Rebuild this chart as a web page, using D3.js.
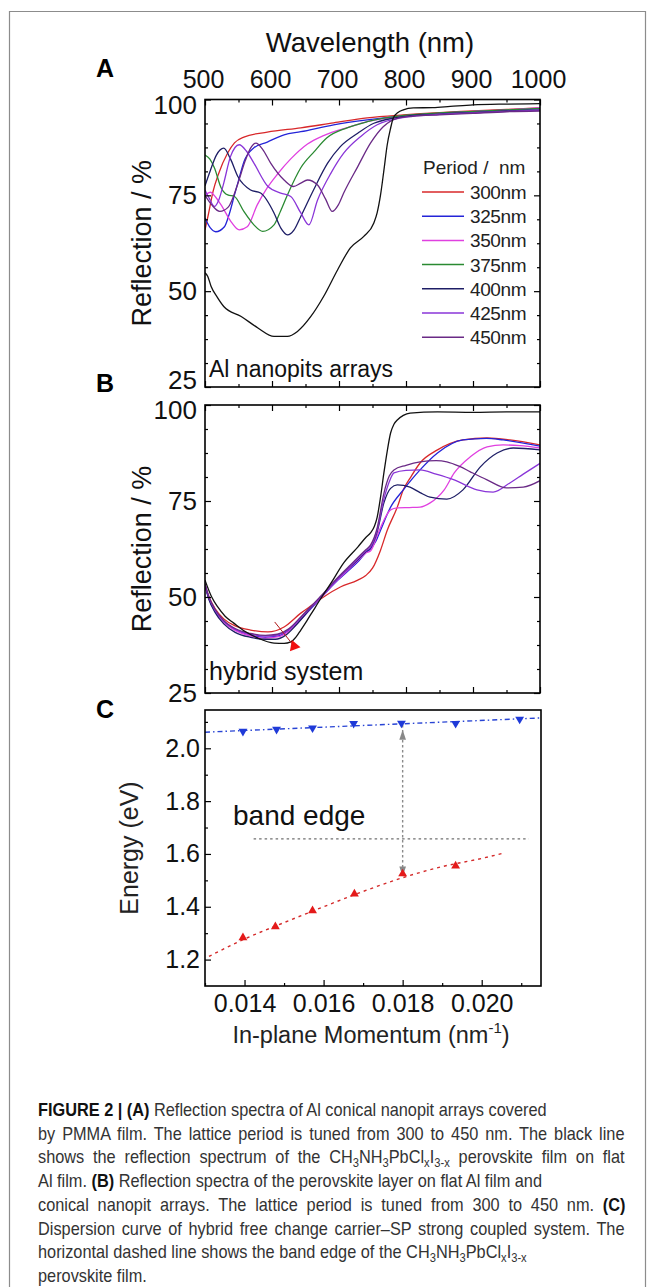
<!DOCTYPE html>
<html>
<head>
<meta charset="utf-8">
<script src="https://cdn.jsdelivr.net/npm/d3@7"></script>
<style>
  body { margin: 0; background: #fff; }
  svg text { font-family: "Liberation Sans", Arial, Helvetica, sans-serif; }
</style>
</head>
<body>
<svg id="fig" width="654" height="1287"></svg>
<script>
// ---------- data ----------
var periods = ["300nm", "325nm", "350nm", "375nm", "400nm", "425nm", "450nm"];
var wlTicks = [500, 600, 700, 800, 900, 1000];
var rTicks = [25, 50, 75, 100];
var kTicks = [0.014, 0.016, 0.018, 0.020];
var eTicks = [1.2, 1.4, 1.6, 1.8, 2.0];

// panel A : Al nanopit arrays (wavelength nm, reflection %)
var a300 = [[500,66],[505,70],[512,76],[520,80.5],[534,86.1],[544,88.7],[558,90.2],[593,91.5],[643,92.6],[692,93.9],[742,95.2],[796,96],[850,96.6],[900,97],[950,97.4],[1000,97.8]];
var a325 = [[500,69.1],[508,66.5],[516,65.5],[529,66.8],[536,70],[544,75.1],[551,79.5],[558,83.7],[573,87.4],[593,88.9],[618,90.8],[643,91.6],[692,93.4],[742,94.7],[800,95.8],[850,96.4],[900,96.8],[950,97.2],[1000,97.6]];
var a350 = [[500,75],[508,75.8],[516,74.5],[524,72.5],[539,68.1],[551,66],[563,66.8],[578,72.5],[593,77],[608,80.5],[628,84.5],[653,88.4],[677,90.6],[717,92.9],[742,94.2],[800,95.8],[850,96.4],[900,96.9],[950,97.3],[1000,97.9]];
var a375 = [[500,85.5],[507,84.5],[514,82.2],[524,77],[534,75.1],[544,74.7],[558,70.8],[573,67.3],[586,65.6],[603,67.3],[613,71],[623,75.1],[643,82.2],[663,86.4],[682,90],[712,92.6],[742,94.2],[800,95.9],[850,96.5],[900,96.9],[950,97.3],[1000,97.7]];
var a400 = [[500,77.5],[508,81.5],[517,85.5],[528,87.3],[538,84.5],[549,79.9],[568,76.4],[583,75.6],[603,70.4],[613,66.5],[623,64.7],[633,66],[643,69.5],[662,76.4],[683,83.4],[702,87.7],[728,91.2],[752,93.8],[800,95.6],[850,96.2],[900,96.6],[950,97],[1000,97.3]];
var a425 = [[500,76.4],[507,74],[514,72.1],[521,74],[528,78.2],[538,85.1],[551,88.2],[562,86.5],[573,83.4],[594,77.3],[613,75.6],[628,74.7],[643,70.4],[655,67.3],[668,73.8],[688,80.8],[707,86],[732,90.3],[757,93.4],[800,95.4],[850,96.1],[900,96.5],[950,96.9],[1000,97.2]];
var a450 = [[500,75],[510,72.5],[522,70.8],[535,72],[548,77.5],[560,84],[568,87.3],[576,88.6],[586,87],[598,83.4],[618,79],[632,77.3],[643,78.2],[653,79],[668,77.7],[680,74],[690,70.8],[699,72.5],[707,75.6],[728,82.5],[747,88.6],[766,92.9],[787,95.1],[810,95.6],[850,96],[900,96.4],[950,96.8],[1000,97]];
var aFlat = [[500,54.8],[504,53.9],[509,51.3],[518,48.5],[528,46],[554,43.4],[579,40.4],[603,38.2],[623,38.2],[638,39.5],[658,43.4],[677,48.6],[698,55.6],[717,61.3],[737,64.3],[752,67.8],[757,70.5],[762,75.1],[767,81.5],[772,88.2],[777,92.5],[781,95.2],[788,96.6],[796,97.3],[811,97.8],[840,97.9],[866,98.2],[900,98.6],[950,98.8],[1000,98.9]];

// panel B : hybrid system
var b300 = [[500,53],[506,50],[515,47],[528,44.3],[545,42.5],[568,41.4],[594,40.9],[618,42.2],[643,45.8],[660,47.9],[677,50],[702,52.6],[728,54.4],[740,55.6],[750,57.5],[762,62.2],[772,67.4],[787,73.4],[796,77.9],[808,81.5],[821,84.9],[847,88.3],[885,90.9],[921,91.4],[955,90.9],[1000,89.6]];
var b325 = [[500,53],[506,49.5],[515,46.3],[528,43.6],[545,41.5],[568,40],[590,39.5],[608,39.8],[625,41.3],[643,44.2],[660,47.3],[677,50.5],[695,53.8],[715,57],[730,59.5],[740,61.5],[747,62.5],[755,64.5],[762,67.4],[777,73.4],[796,77.9],[808,80.5],[821,83.1],[847,87.5],[885,90.9],[920,91.3],[945,90.9],[1000,89.3]];
var b350 = [[500,53.2],[506,49.7],[515,46.5],[528,43.5],[545,41.3],[568,39.9],[590,39.3],[608,39.6],[625,41.1],[643,44.3],[660,47.5],[677,50.6],[695,54],[715,57.3],[730,59.8],[740,61.5],[747,62],[757,66],[767,70],[777,72.7],[787,73.2],[805,73.3],[821,73.4],[836,74.5],[857,77.9],[872,82.3],[896,86.5],[921,89.1],[945,89.6],[970,89.4],[1000,88.8]];
var b400 = [[500,53],[506,49.3],[515,46],[528,43],[545,40.8],[568,39.5],[590,39],[605,39],[620,40],[635,42.5],[650,45.5],[665,48.6],[677,50.8],[695,54.2],[715,57.6],[730,60],[740,61.8],[747,62.8],[757,67],[767,74.5],[777,78.3],[787,79.2],[806,78.6],[821,77.2],[836,76],[861,75.5],[885,77.9],[911,83.9],[936,87.5],[960,88.8],[1000,88.3]];
var b425 = [[500,53.3],[506,49.8],[515,46.6],[528,43.7],[545,41.6],[568,40.3],[590,39.8],[608,40.1],[625,41.5],[643,44.6],[660,47.7],[677,50.8],[695,54.2],[715,57.7],[730,60.3],[740,62],[747,63],[757,67.5],[767,75.5],[775,80],[782,82.3],[800,83],[821,83.1],[845,82],[872,80.5],[906,77.9],[930,77.3],[955,79.7],[975,82],[1000,84.8]];
var b450 = [[500,53.5],[506,50],[515,46.8],[528,43.9],[545,41.8],[568,40.5],[590,40],[608,40.3],[625,41.7],[643,44.8],[660,47.9],[677,51],[695,54.5],[715,58],[730,60.6],[740,62.3],[747,63.5],[757,68],[767,77],[775,81.5],[782,83.1],[800,84.3],[821,85.2],[845,85.5],[861,85.2],[880,84],[896,82.6],[921,80.5],[950,78.4],[975,78.6],[1000,80.3]];
var bFlat = [[500,54.4],[510,50],[519,47.4],[530,45],[543,43.2],[560,41],[579,39.3],[603,38],[618,37.9],[628,38.3],[636,39.6],[643,41.4],[652,43.8],[662,46.6],[675,50.2],[688,53.6],[707,58.9],[728,63],[740,65.5],[747,66.7],[753,68.5],[757,70.8],[762,76],[767,82.3],[772,88],[777,92.7],[782,95],[787,96.1],[796,97.3],[806,97.9],[847,98.2],[900,98.1],[950,98.2],[1000,98.2]];
var bArrow = [[604,43.5],[633,37.2]];

// panel C : dispersion (in-plane momentum nm^-1, energy eV)
var kUpper = [0.01396, 0.01481, 0.01572, 0.01676, 0.01797, 0.01934, 0.02096];
var eUpper = [2.064, 2.072, 2.077, 2.094, 2.095, 2.094, 2.110];
var kLower = [0.01396, 0.01478, 0.01572, 0.01678, 0.01800, 0.01934];
var eLower = [1.283, 1.325, 1.385, 1.449, 1.525, 1.555];
var upperFit = [[0.0130, 2.061], [0.0215, 2.115]];
var lowerFit = [[0.0131,1.212],[0.0140,1.278],[0.0150,1.340],[0.0160,1.400],[0.0170,1.458],[0.0180,1.510],[0.0190,1.552],[0.0200,1.583],[0.02055,1.603]];
var bandEdge = [[0.01423, 1.657], [0.02119, 1.657]];
var gapArrow = [[0.0180, 2.088], [0.0180, 1.530]];
var gapHeads = [2.045, 1.540];

var captionLines = [
  [["FIGURE 2 | (A)", "b"], [" Reflection spectra of Al conical nanopit arrays covered", ""]],
  [["by PMMA film. The lattice period is tuned from 300 to 450 nm. The black line", ""]],
  [["shows the reflection spectrum of the CH", ""], ["3", "s"], ["NH", ""], ["3", "s"], ["PbCl", ""], ["x", "s"], ["I", ""], ["3-x", "s"], [" perovskite film on flat", ""]],
  [["Al film. ", ""], ["(B)", "b"], [" Reflection spectra of the perovskite layer on flat Al film and", ""]],
  [["conical nanopit arrays. The lattice period is tuned from 300 to 450 nm. ", ""], ["(C)", "b"]],
  [["Dispersion curve of hybrid free change carrier\u2013SP strong coupled system. The", ""]],
  [["horizontal dashed line shows the band edge of the CH", ""], ["3", "s"], ["NH", ""], ["3", "s"], ["PbCl", ""], ["x", "s"], ["I", ""], ["3-x", "s"]],
  [["perovskite film.", ""]]
];

// ---------- styles / layout ----------
var colors = ["#d8282a", "#2424d8", "#e040e0", "#2a8a32", "#1e1e66", "#8a36d8", "#6a2a86"];
var captionWidths = [509, 587, 587, 491, 588, 587, 437, 137];
var L = 205, R = 540;

var svg = d3.select("#fig");

svg.append("path")
  .attr("d", "M9.5,1287V11.5H645.5V1287")
  .attr("fill", "none").attr("stroke", "#8c8c8c").attr("stroke-width", 1.2);

var xWl = d3.scaleLinear().domain([500, 1000]).range([L, R]);
var yA = d3.scaleLinear().domain([25, 100]).range([387, 99.5]);
var yB = d3.scaleLinear().domain([25, 100]).range([693, 405]);

function styleAxis(g, size) {
  g.select(".domain").remove();
  g.attr("font-family", '"Liberation Sans", Arial, sans-serif').attr("font-size", size);
  g.selectAll("line").attr("stroke", "#000").attr("stroke-width", 1.2);
  g.selectAll("text").attr("fill", "#111");
}

function reflPanel(y, series, seriesColors, clipId, showTop) {
  var top = y.range()[1], bot = y.range()[0];
  svg.append("clipPath").attr("id", clipId)
    .append("rect").attr("x", L).attr("y", top).attr("width", R - L).attr("height", bot - top);

  var line = d3.line()
    .x(function(d) { return xWl(d[0]); })
    .y(function(d) { return y(d[1]); })
    .curve(d3.curveMonotoneX);

  var g = svg.append("g").attr("clip-path", "url(#" + clipId + ")");
  g.selectAll("path")
    .data(series)
    .enter()
    .append("path")
    .attr("d", function(d) { return line(d); })
    .attr("fill", "none")
    .attr("stroke", function(d, i) { return seriesColors[i]; })
    .attr("stroke-width", 1.3);

  var minorWl = d3.range(550, 1000, 100);
  var minorR = d3.range(25, 100.01, 6.25).filter(function(v) { return v % 25 !== 0; });

  var ax = svg.append("g").attr("transform", "translate(0," + top + ")")
    .call(d3.axisTop(xWl).tickValues(wlTicks).tickSize(-6).tickPadding(12)
      .tickFormat(showTop ? d3.format("d") : ""));
  styleAxis(ax, 25);
  ax.selectAll("text").attr("dx", "-2");
  styleAxis(svg.append("g").attr("transform", "translate(0," + top + ")")
    .call(d3.axisTop(xWl).tickValues(minorWl).tickSize(-3).tickFormat("")), 10);
  styleAxis(svg.append("g").attr("transform", "translate(0," + bot + ")")
    .call(d3.axisBottom(xWl).tickValues(wlTicks).tickSize(-6).tickFormat("")), 10);
  styleAxis(svg.append("g").attr("transform", "translate(0," + bot + ")")
    .call(d3.axisBottom(xWl).tickValues(minorWl).tickSize(-3).tickFormat("")), 10);

  var ay = svg.append("g").attr("transform", "translate(" + L + ",0)")
    .call(d3.axisLeft(y).tickValues(rTicks).tickSize(-6).tickPadding(8));
  styleAxis(ay, 26);
  // nudge end labels apart so the 25 of A and 100 of B do not collide
  ay.selectAll(".tick text").attr("dy", function(d) {
    if (d === 100) return showTop ? "0.55em" : "0.52em";
    if (d === 25) return showTop ? "0.05em" : "0.32em";
    return "0.32em";
  });
  styleAxis(svg.append("g").attr("transform", "translate(" + L + ",0)")
    .call(d3.axisLeft(y).tickValues(minorR).tickSize(-3).tickFormat("")), 10);
  styleAxis(svg.append("g").attr("transform", "translate(" + R + ",0)")
    .call(d3.axisRight(y).tickValues(rTicks).tickSize(-6).tickFormat("")), 10);
  styleAxis(svg.append("g").attr("transform", "translate(" + R + ",0)")
    .call(d3.axisRight(y).tickValues(minorR).tickSize(-3).tickFormat("")), 10);

  svg.append("rect").attr("x", L).attr("y", top).attr("width", R - L).attr("height", bot - top)
    .attr("fill", "none").attr("stroke", "#000").attr("stroke-width", 1.6);

  svg.append("text")
    .attr("transform", "translate(151," + ((top + bot) / 2) + ") rotate(-90)")
    .attr("text-anchor", "middle").attr("font-size", 27).attr("fill", "#111")
    .text("Reflection / %");
  return line;
}

// ---------- panel A ----------
svg.append("text").attr("x", 370).attr("y", 52).attr("text-anchor", "middle")
  .attr("font-size", 27.5).attr("fill", "#111").text("Wavelength (nm)");
svg.append("text").attr("x", 96).attr("y", 77).attr("font-size", 25).attr("font-weight", "bold").text("A");

reflPanel(yA, [a300, a325, a350, a375, a400, a425, a450, aFlat], colors.concat(["#111"]), "clipA", true);

svg.append("text").attr("x", 209).attr("y", 377).attr("font-size", 23).attr("fill", "#111")
  .text("Al nanopits arrays");

var legend = svg.append("g");
legend.append("text").attr("x", 423).attr("y", 174).attr("font-size", 19).attr("fill", "#222")
  .text("Period /\u00a0 nm");
var items = legend.selectAll("g.item")
  .data(periods)
  .enter()
  .append("g")
  .attr("transform", function(d, i) { return "translate(0," + (192 + i * 24.2) + ")"; });
items.append("line").attr("x1", 422).attr("x2", 464).attr("y1", 0).attr("y2", 0)
  .attr("stroke", function(d, i) { return colors[i]; }).attr("stroke-width", 1.5);
items.append("text").attr("x", 470).attr("y", 7).attr("font-size", 19).attr("fill", "#222")
  .attr("letter-spacing", -0.4)
  .text(function(d) { return d; });

// ---------- panel B ----------
svg.append("text").attr("x", 96).attr("y", 392).attr("font-size", 25).attr("font-weight", "bold").text("B");
var lineB = reflPanel(yB, [b300, b325, b350, b400, b425, b450, bFlat],
  [colors[0], colors[1], colors[2], colors[4], colors[5], colors[6], "#111"], "clipB", false);

svg.append("path").attr("d", lineB.curve(d3.curveLinear)(bArrow))
  .attr("stroke", "#b01818").attr("stroke-width", 1).attr("fill", "none");
svg.append("path")
  .attr("d", d3.symbol(d3.symbolTriangle).size(55)())
  .attr("transform", "translate(" + xWl(bArrow[1][0]) + "," + yB(bArrow[1][1]) + ") rotate(-20)")
  .attr("fill", "#f01010");

svg.append("text").attr("x", 209).attr("y", 680).attr("font-size", 25).attr("fill", "#111")
  .text("hybrid system");

// ---------- panel C ----------
svg.append("text").attr("x", 96).attr("y", 718).attr("font-size", 25).attr("font-weight", "bold").text("C");

var xK = d3.scaleLinear().domain([0.013, 0.0215]).range([L, 541]);
var yE = d3.scaleLinear().domain([1.1, 2.145]).range([986, 710]);
var lineC = d3.line().x(function(d) { return xK(d[0]); }).y(function(d) { return yE(d[1]); });

svg.append("path").attr("d", lineC.curve(d3.curveMonotoneX)(lowerFit))
  .attr("fill", "none").attr("stroke", "#d42a2a").attr("stroke-width", 1.4).attr("stroke-dasharray", "3,4");
svg.append("path").attr("d", lineC.curve(d3.curveLinear)(upperFit))
  .attr("fill", "none").attr("stroke", "#2844d4").attr("stroke-width", 1.4).attr("stroke-dasharray", "5,3,1.5,3");
svg.append("path").attr("d", lineC(bandEdge))
  .attr("fill", "none").attr("stroke", "#707070").attr("stroke-width", 1.3).attr("stroke-dasharray", "2.5,3");
svg.append("path").attr("d", lineC(gapArrow))
  .attr("fill", "none").attr("stroke", "#8a8a8a").attr("stroke-width", 1.4).attr("stroke-dasharray", "2.5,2.5");
svg.selectAll("path.head")
  .data(gapHeads)
  .enter()
  .append("path")
  .attr("d", d3.symbol(d3.symbolTriangle).size(30)())
  .attr("transform", function(d, i) {
    return "translate(" + xK(gapArrow[0][0]) + "," + yE(d) + ") rotate(" + (i === 0 ? 0 : 180) + ") scale(0.8,1.4)";
  })
  .attr("fill", "#888");

svg.selectAll("path.up")
  .data(kUpper)
  .enter()
  .append("path")
  .attr("d", d3.symbol(d3.symbolTriangle).size(34)())
  .attr("transform", function(d, i) { return "translate(" + xK(d) + "," + yE(eUpper[i]) + ") rotate(180)"; })
  .attr("fill", "#1f3ad8");
svg.selectAll("path.low")
  .data(kLower)
  .enter()
  .append("path")
  .attr("d", d3.symbol(d3.symbolTriangle).size(34)())
  .attr("transform", function(d, i) { return "translate(" + xK(d) + "," + yE(eLower[i]) + ")"; })
  .attr("fill", "#e41a1a");

var cb = svg.append("g").attr("transform", "translate(0,986)")
  .call(d3.axisBottom(xK).tickValues(kTicks).tickSize(-6).tickPadding(8).tickFormat(d3.format(".3f")));
styleAxis(cb, 25);
styleAxis(svg.append("g").attr("transform", "translate(0,986)")
  .call(d3.axisBottom(xK).tickValues([0.013, 0.015, 0.017, 0.019, 0.021]).tickSize(-3).tickFormat("")), 10);
styleAxis(svg.append("g").attr("transform", "translate(" + L + ",0)")
  .call(d3.axisLeft(yE).tickValues(eTicks).tickSize(-6).tickPadding(5).tickFormat(d3.format(".1f"))), 25);
styleAxis(svg.append("g").attr("transform", "translate(" + L + ",0)")
  .call(d3.axisLeft(yE).tickValues([1.3, 1.5, 1.7, 1.9, 2.1]).tickSize(-3).tickFormat("")), 10);
svg.append("rect").attr("x", L).attr("y", 710).attr("width", 336).attr("height", 276)
  .attr("fill", "none").attr("stroke", "#000").attr("stroke-width", 1.6);

svg.append("text").attr("x", 233).attr("y", 825).attr("font-size", 28).attr("fill", "#111").text("band edge");

svg.append("text")
  .attr("transform", "translate(138,848) rotate(-90)")
  .attr("text-anchor", "middle").attr("font-size", 25).attr("fill", "#222")
  .text("Energy (eV)");

var xt = svg.append("text").attr("x", 371).attr("y", 1043).attr("text-anchor", "middle")
  .attr("font-size", 23.5).attr("fill", "#222");
xt.append("tspan").text("In-plane Momentum (nm");
xt.append("tspan").attr("font-size", 15).attr("dy", -10).text("-1");
xt.append("tspan").attr("dy", 10).text(")");

// ---------- caption ----------
// one condensed glyph scale for every line; justified lines get extra word spacing
var capNodes = captionLines.map(function(parts, i) {
  var t = svg.append("text")
    .attr("x", 0).attr("y", 0)
    .attr("font-size", 17.5).attr("fill", "#333");
  var shifted = false;
  parts.forEach(function(p) {
    var s = t.append("tspan").text(p[0]);
    if (p[1] === "b") s.attr("font-weight", "bold").attr("fill", "#111");
    if (p[1] === "s") {
      s.attr("font-size", 12);
      if (!shifted) { s.attr("dy", 4); shifted = true; }
    } else if (shifted) {
      s.attr("dy", -4); shifted = false;
    }
  });
  return t;
});
var capScale = captionWidths[0] / capNodes[0].node().getComputedTextLength();
capNodes.forEach(function(t, i) {
  var natural = t.node().getComputedTextLength();
  var spaces = captionLines[i].map(function(p) { return p[0]; }).join("").split(" ").length - 1;
  var extra = (captionWidths[i] / capScale - natural) / Math.max(spaces, 1);
  if (extra > 0 && [1, 2, 4, 5].indexOf(i) >= 0) t.attr("word-spacing", extra.toFixed(2));
  t.attr("transform", "translate(38," + (1116 + i * 23.7) + ") scale(" + capScale.toFixed(4) + ",1)");
});
</script>
</body>
</html>
